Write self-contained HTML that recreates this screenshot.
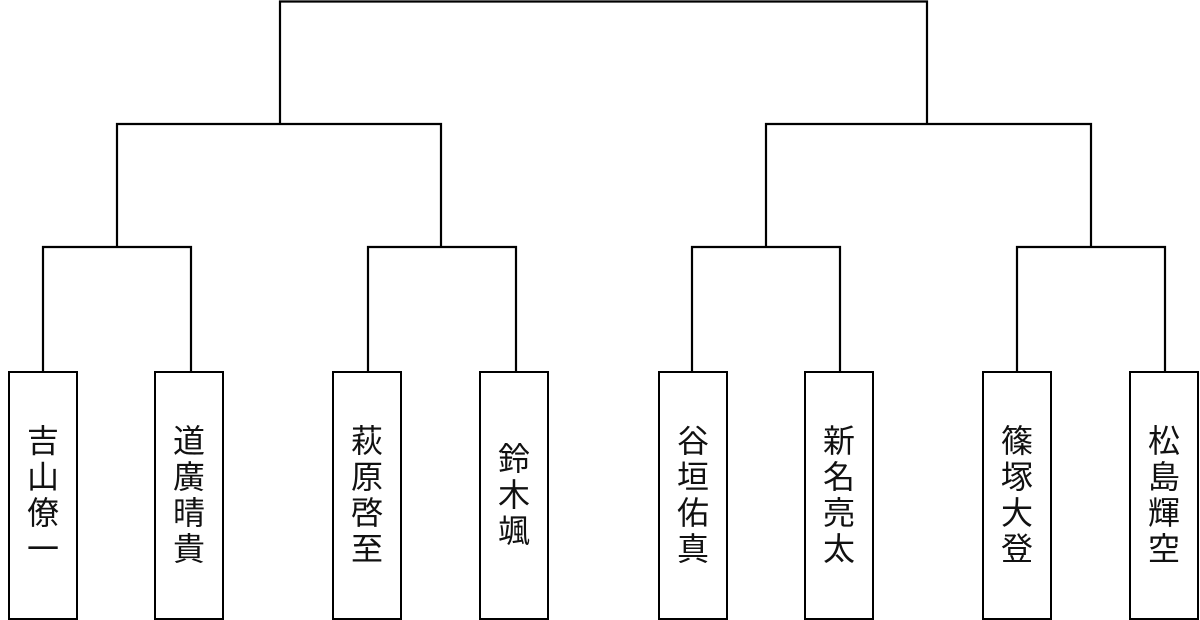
<!DOCTYPE html>
<html><head><meta charset="utf-8"><style>
body{margin:0;width:1200px;height:619px;background:#fff;overflow:hidden}
svg{position:absolute;left:0;top:0}
.b{position:absolute;top:371px;width:66px;height:245px;border:2px solid #000;display:flex;align-items:center;justify-content:center;background:#fff}
.b span{writing-mode:vertical-rl;font-family:"Noto Sans CJK JP",sans-serif;font-size:32px;line-height:1;letter-spacing:4px;color:#111}
</style></head><body>
<svg width="1200" height="619"><g stroke="#000" stroke-width="2.2" fill="none">
<path d="M280 124V1.5H927V124"/>
<path d="M117 247V124H441V247"/><path d="M766 247V124H1091V247"/>
<path d="M43 371V247H191V371"/><path d="M368 371V247H516V371"/>
<path d="M692 371V247H840V371"/><path d="M1017 371V247H1165V371"/>
</g></svg>
<div class="b" style="left:8px"><span>吉山僚一</span></div>
<div class="b" style="left:154px"><span>道廣晴貴</span></div>
<div class="b" style="left:332px"><span>萩原啓至</span></div>
<div class="b" style="left:479px"><span>鈴木颯</span></div>
<div class="b" style="left:658px"><span>谷垣佑真</span></div>
<div class="b" style="left:804px"><span>新名亮太</span></div>
<div class="b" style="left:982px"><span>篠塚大登</span></div>
<div class="b" style="left:1129px"><span>松島輝空</span></div>
</body></html>
